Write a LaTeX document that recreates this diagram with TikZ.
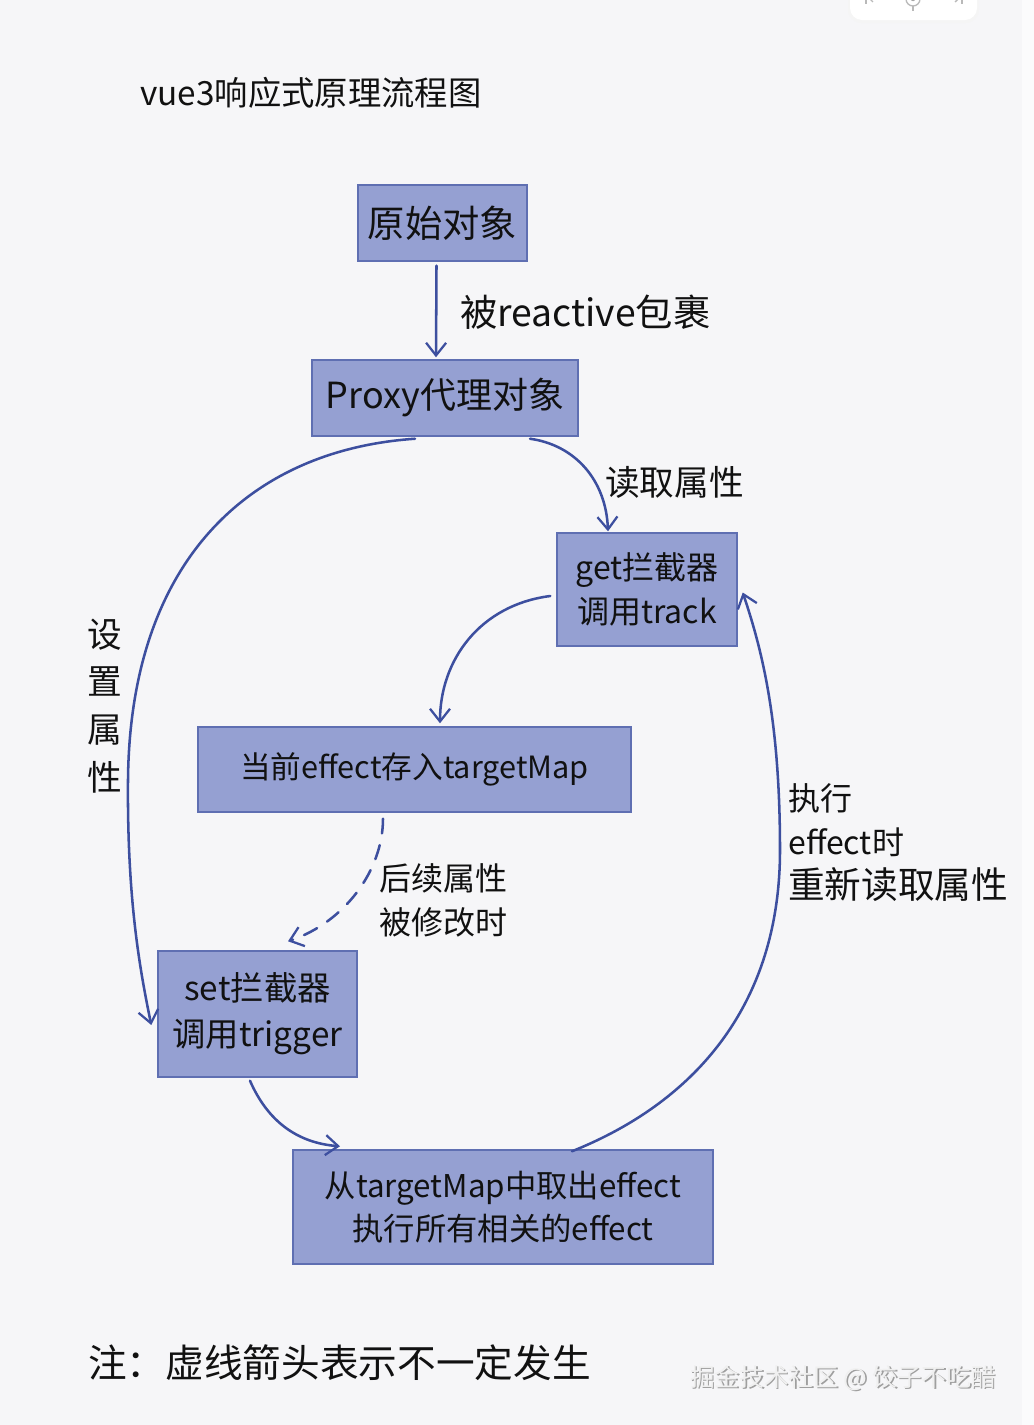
\documentclass[tikz,border=0pt]{standalone}
\usepackage{fontspec}
\setmainfont{Noto Sans CJK SC}
\usetikzlibrary{arrows.meta,calc}
\definecolor{bg}{HTML}{F6F6F8}
\definecolor{boxfill}{HTML}{95A0D2}
\definecolor{boxline}{HTML}{5F6FB2}
\definecolor{arrcol}{HTML}{3D4F9F}
\definecolor{ink}{HTML}{111111}
\newcommand\fs[1]{\fontsize{#1pt}{\dimexpr #1pt*138/100\relax}\selectfont}
\newcommand\pxl[1]{#1*0.75pt}
\begin{document}
\begin{tikzpicture}[x=0.75pt,y=-0.75pt,
  flowbox/.style={draw=boxline,line width=1.1pt,fill=boxfill,inner sep=0pt,align=center,text=ink},
  arr/.style={draw=arrcol,line width=1.9pt,line cap=round,-{Straight Barb[length=9.5pt,width=15pt,line width=1.7pt]}},
  dasharr/.style={arr,dash pattern=on 11pt off 9pt},
  lbl/.style={text=ink,inner sep=0pt},
  icon/.style={draw=gray!55,line width=1pt},
]
% background and frame
\fill[bg] (0,0) rectangle (1034,1425);
\useasboundingbox (0,0) rectangle (1034,1425);
\fill[white!55!bg] (1022,0) rectangle (1034,1425);
% top-right toolbar
\fill[gray!8,rounded corners=10pt] (848,-20) rectangle (979,23);
\fill[white,rounded corners=9pt] (850,-20) rectangle (977,20);
\draw[icon] (866,-8) -- (866,4);
\draw[icon,-{Straight Barb[length=3pt,width=6pt]}] (884,-2) -- (868,-2);
\draw[icon] (913,-1) circle[radius=7];
\fill[gray!70] (913,-1) circle[radius=2.2];
\draw[icon] (913,6) -- (913,11);
\draw[icon,-{Straight Barb[length=3pt,width=6pt]}] (944,-2) -- (960,-2);
\draw[icon] (962,-8) -- (962,4);

% title
\node[lbl,anchor=west,font=\fs{25}] (title) at (140,93) {vue3响应式原理流程图};

% boxes
\node[flowbox,minimum width=\pxl{169},minimum height=\pxl{76},font=\fs{28}] (A) at (442.5,223) {原始对象};
\node[flowbox,minimum width=\pxl{266},minimum height=\pxl{76},font=\fs{27}] (B) at (445,398) {Proxy代理对象};
\node[flowbox,minimum width=\pxl{180},minimum height=\pxl{113},font=\fs{24}] (C) at (647,589.5) {get拦截器\\调用track};
\node[flowbox,minimum width=\pxl{433},minimum height=\pxl{85},font=\fs{23}] (D) at (414.5,769.5) {当前effect存入targetMap};
\node[flowbox,minimum width=\pxl{199},minimum height=\pxl{126},font=\fs{25}] (E) at (257.5,1014) {set拦截器\\调用trigger};
\node[flowbox,minimum width=\pxl{420},minimum height=\pxl{114},font=\fs{23.5}] (F) at (503,1207) {从targetMap中取出effect\\执行所有相关的effect};

% connectors
\draw[arr] ($(A.south)+(-6,4)$) -- ($(B.north)+(-9,-2)$);
\node[lbl,anchor=west,font=\fs{28}] (l1) at (460,312) {被reactive包裹};

\draw[arr] ($(B.south)+(85,2)$) .. controls (575,445) and (606,480) .. ($(C.north)+(-39,-1)$);
\node[lbl,anchor=west,font=\fs{26}] (l2) at (605,482) {读取属性};

\draw[arr] ($(C.west)+(-6,6.5)$) .. controls (480,605) and (440,660) .. ($(D.north)+(25.5,-3)$);

\draw[dasharr] ($(D.south)+(-31.5,6)$) .. controls (383,870) and (345,922) .. ($(E.north)+(30.5,-9)$);
\node[lbl,align=center,font=\fs{24}] (l3) at (443,900) {后续属性\\被修改时};

\draw[arr] ($(B.south)+(-30,2)$) .. controls (250,450) and (130,560) .. (128,780)
  .. controls (127,900) and (140,970) .. ($(E.west)+(-6,11)$);
\node[lbl,align=center,font=\fs{26},text width=\pxl{40}] (l4) at (105,706) {设\\置\\属\\性};

\draw[arr] ($(E.south)+(-7.5,3)$) .. controls (268,1122) and (298,1143) .. ($(F.north)+(-163,-3)$);

\draw[arr] ($(F.north)+(69,2)$) .. controls (700,1100) and (780,1000) .. (780,850)
  .. controls (780,720) and (762,650) .. ($(C.east)+(5,3)$);
\node[lbl,anchor=north west,align=left,font=\fs{24}] (l5) at (788,783) {执行\\effect时\\{\fs{27.5}重新读取属性}};

% note
\node[lbl,anchor=west,font=\fs{29}] (note) at (88,1363) {注：虚线箭头表示不一定发生};

% watermark
\node[anchor=west,inner sep=0pt,font=\fs{18.5},text=gray!75] (wms) at (691.5,1379.5) {掘金技术社区 @ 饺子不吃醋};
\node[anchor=west,inner sep=0pt,font=\fs{18.5},text=gray!12] (wm) at (690,1378) {掘金技术社区 @ 饺子不吃醋};
\end{tikzpicture}
\end{document}
